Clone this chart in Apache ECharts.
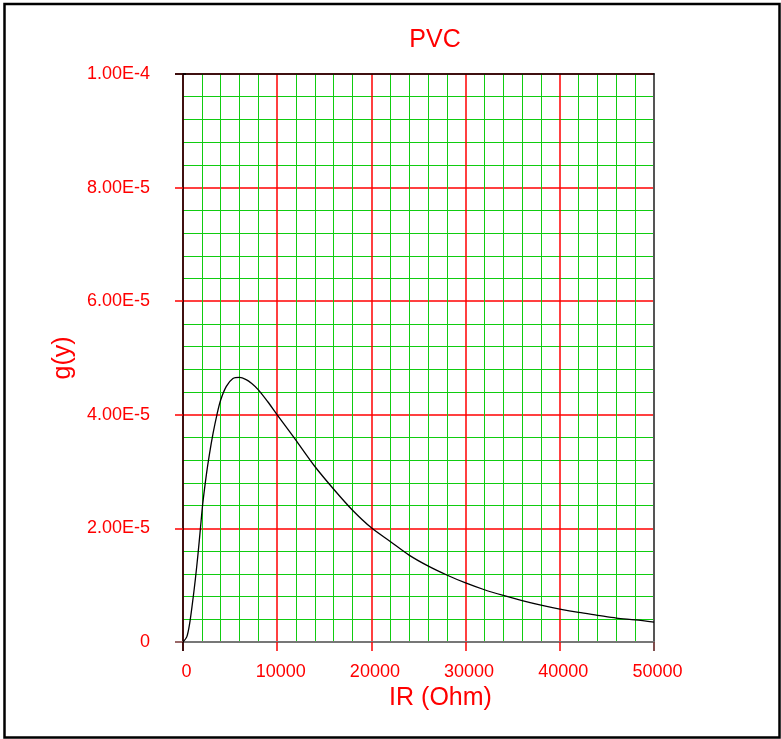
<!DOCTYPE html>
<html>
<head>
<meta charset="utf-8">
<script src="https://cdn.jsdelivr.net/npm/echarts@6/dist/echarts.min.js"></script>
<style>
  html, body { margin: 0; padding: 0; background: #fff; }
  #chart { width: 781px; height: 739px; }
</style>
</head>
<body>
<div id="chart"></div>
<script>
// Resistance (Ohm) and the density g(y) of the PVC distribution curve
const irValues = [0, 400, 700, 1000, 1300, 1600, 1850, 2100, 2500, 2800, 3200, 3600, 4000, 4600,
  5300, 6000, 6700, 7300, 8000, 9000, 10000, 11300, 12000, 14000, 16000, 18000, 20000, 22000, 24000,
  26000, 28000, 30000, 32000, 34000, 36000, 38000, 40000, 42000, 44000, 46000, 48000, 50000];
const gValues = [0, 0.9e-6, 3.2e-6, 6.8e-6, 10.9e-6, 15.6e-6, 20.0e-6, 24.4e-6, 29.7e-6, 33.0e-6,
  36.8e-6, 40.0e-6, 42.6e-6, 45.0e-6, 46.4e-6, 46.6e-6, 46.2e-6, 45.5e-6, 44.4e-6, 42.3e-6, 40.0e-6,
  37.1e-6, 35.5e-6, 30.9e-6, 26.9e-6, 23.2e-6, 20.1e-6, 17.7e-6, 15.3e-6, 13.4e-6, 11.8e-6,
  10.4e-6, 9.2e-6, 8.2e-6, 7.3e-6, 6.5e-6, 5.8e-6, 5.2e-6, 4.7e-6, 4.2e-6, 3.9e-6, 3.5e-6];

// Axis ranges, major steps and fine grid steps
const xMin = 0, xMax = 50000, xStep = 10000, xFine = 2000;
const yMin = 0, yMax = 1e-4, yStep = 2e-5, yFine = 4e-6;

const RED = '#ff0000';
const GREEN = '#11cc11';
const NONE = 'rgba(0,0,0,0)';
const FONT = 'Liberation Sans, Arial, sans-serif';
// fine grid: green lines, left out where a red major line sits
const FINE_COLORS = [NONE, GREEN, GREEN, GREEN, GREEN];

function yLabel(v) {
  if (v === 0) return '0';
  return v.toExponential(2).toUpperCase();
}
function off() { return { show: false }; }

// Bare axis: only what the caller switches on is drawn
function bareAxis(min, max, step, position, extra) {
  return Object.assign({
    type: 'value', min: min, max: max, interval: step, position: position,
    axisLine: off(), axisLabel: off(), axisTick: off(), splitLine: off()
  }, extra);
}
// Axis that only draws one short tick at the given value
function singleTickX(position, value, color, len) {
  return bareAxis(xMin, xMax, xStep, position, {
    axisTick: { show: true, length: len, customValues: [value], lineStyle: { color: color, width: 1.5 } }
  });
}
function singleTickY(position, value, color, len) {
  return bareAxis(yMin, yMax, yStep, position, {
    axisTick: { show: true, length: len, customValues: [value], lineStyle: { color: color, width: 1.5 } }
  });
}

const chart = echarts.init(document.getElementById('chart'), null, { renderer: 'canvas' });

chart.setOption({
  animation: false,
  backgroundColor: '#ffffff',
  title: {
    text: 'PVC',
    left: 430, top: 23,
    textAlign: 'center',
    textStyle: { color: RED, fontFamily: FONT, fontSize: 25, fontWeight: 'normal' }
  },
  grid: { left: 183, top: 74, right: 127, bottom: 97, containLabel: false },
  xAxis: [
    // green fine grid
    bareAxis(xMin, xMax, xFine, 'bottom', {
      splitLine: { show: true, lineStyle: { color: FINE_COLORS, width: 1 } }
    }),
    // main axis with labels, red ticks and red major grid
    bareAxis(xMin, xMax, xStep, 'bottom', {
      name: 'IR (Ohm)', nameLocation: 'middle', nameGap: 26,
      nameTextStyle: { color: RED, fontFamily: FONT, fontSize: 25, padding: [0, 0, 0, 44] },
      axisLine: { show: true, onZero: false, lineStyle: { color: '#777777', width: 2 } },
      axisTick: { show: true, length: 9, lineStyle: { color: RED, width: 1.5 } },
      axisLabel: { show: true, color: RED, fontFamily: FONT, fontSize: 18, margin: 21,
        padding: [0, 0, 0, 7], formatter: (v) => String(v) },
      splitLine: { show: true, lineStyle: { color: RED, width: 1.5 } }
    }),
    singleTickX('bottom', xMin, '#000000', 9),
    singleTickX('bottom', xMax, '#555555', 9),
    bareAxis(xMin, xMax, xStep, 'top', {
      axisLine: { show: true, onZero: false, lineStyle: { color: '#000000', width: 1.5 } }
    })
  ],
  yAxis: [
    bareAxis(yMin, yMax, yFine, 'left', {
      splitLine: { show: true, lineStyle: { color: FINE_COLORS, width: 1 } }
    }),
    bareAxis(yMin, yMax, yStep, 'left', {
      name: 'g(y)', nameLocation: 'middle', nameGap: 94, nameRotate: 90,
      nameTextStyle: { color: RED, fontFamily: FONT, fontSize: 25 },
      axisLine: { show: true, onZero: false, lineStyle: { color: '#000000', width: 1.5 } },
      axisTick: { show: true, length: 8, lineStyle: { color: RED, width: 1.5 } },
      axisLabel: { show: true, color: RED, fontFamily: FONT, fontSize: 18, margin: 33, formatter: yLabel },
      splitLine: { show: true, lineStyle: { color: RED, width: 1.5 } }
    }),
    singleTickY('left', yMin, '#777777', 8),
    singleTickY('left', yMax, '#000000', 8),
    bareAxis(yMin, yMax, yStep, 'right', {
      axisLine: { show: true, onZero: false, lineStyle: { color: '#555555', width: 2 } }
    }),
    singleTickY('right', yMin, '#777777', 3),
    singleTickY('right', yMax, '#000000', 3)
  ],
  graphic: [{
    type: 'rect',
    shape: { x: 4.5, y: 4, width: 775, height: 733.5 },
    style: { fill: null, stroke: '#000000', lineWidth: 2.5 },
    silent: true
  }],
  series: [{
    type: 'line',
    xAxisIndex: 1, yAxisIndex: 1,
    data: irValues.map((x, i) => [x, gValues[i]]),
    smooth: 0.3,
    showSymbol: false,
    lineStyle: { color: '#000000', width: 1.3 },
    z: 10
  }]
});
</script>
</body>
</html>
